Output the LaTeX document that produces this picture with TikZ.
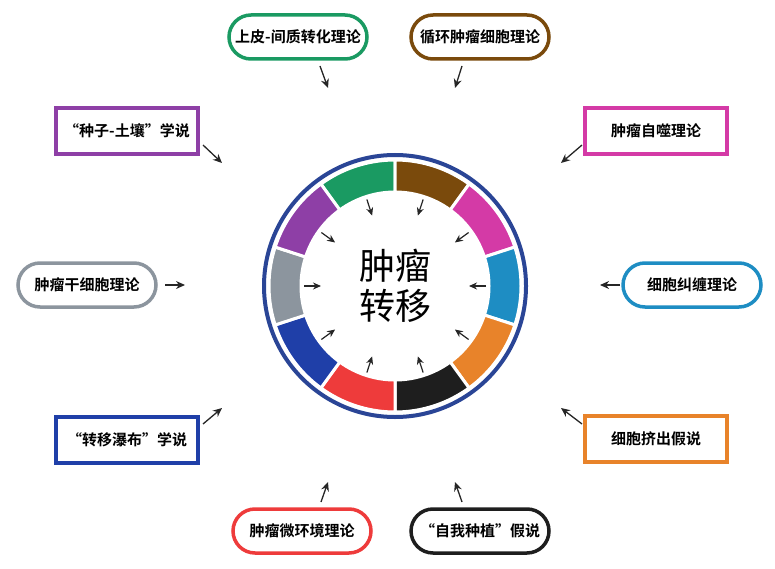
\documentclass[tikz,border=0pt]{standalone}
\usepackage{fontspec}
\setmainfont{Noto Sans CJK SC}
\newfontfamily\cjkb{Noto Sans CJK SC Bold}
\usetikzlibrary{arrows.meta,calc}
\definecolor{cgreen}{HTML}{1A9A62}
\definecolor{cbrown}{HTML}{7A4A0C}
\definecolor{cmag}{HTML}{D43AA6}
\definecolor{ccyan}{HTML}{1E8DC3}
\definecolor{corange}{HTML}{E8832A}
\definecolor{cblack}{HTML}{1E1E1E}
\definecolor{cred}{HTML}{EE3B3B}
\definecolor{cdblue}{HTML}{1F3FA8}
\definecolor{cgray}{HTML}{8C959E}
\definecolor{cpurple}{HTML}{8E3FA6}
\definecolor{cring}{HTML}{2A4596}
\tikzset{
 rbox/.style={draw=#1,line width=3.5pt,rounded corners=22pt,fill=white,minimum width=138pt,minimum height=44pt,font=\cjkb\fontsize{15}{15}\selectfont,inner sep=2pt},
 sbox/.style={draw=#1,line width=3.5pt,fill=white,minimum width=142pt,minimum height=46pt,font=\cjkb\fontsize{15}{15}\selectfont,inner sep=2pt},
 arr/.style={-{Stealth[length=9pt,width=8pt]},line width=1.3pt,black!85},
 iarr/.style={-{Stealth[length=8pt,width=7pt]},line width=1.2pt,black!85}
}
\begin{document}
\begin{tikzpicture}[x=1pt,y=-1pt]
\useasboundingbox (0,0) rectangle (775,569);
\begin{scope}[shift={(395,286)},y=1pt]
\draw[cring,line width=4pt] (0,0) circle[radius=131];
\foreach \a/\col in {108/cgreen,72/cbrown,36/cmag,0/ccyan,-36/corange,-72/cblack,-108/cred,-144/cdblue,180/cgray,144/cpurple}{
  \fill[\col,draw=white,line width=3pt] (\a-18:94) arc[start angle=\a-18,end angle=\a+18,radius=94] -- (\a+18:126) arc[start angle=\a+18,end angle=\a-18,radius=126] -- cycle;
  \coordinate (t\a) at (\a:91);
  \coordinate (h\a) at (\a:74);
  \draw[iarr] (t\a) -- (h\a);
}
\end{scope}
\node[font=\fontsize{36}{36}\selectfont,align=center] (ct) at (395,286) {肿瘤\\[4pt]转移};
\node[rbox=cgreen] (b1) at (298,37) {上皮-间质转化理论};
\node[rbox=cbrown] (b2) at (480,37) {循环肿瘤细胞理论};
\node[sbox=cmag] (b3) at (656,131) {肿瘤自噬理论};
\node[rbox=ccyan] (b4) at (692,285) {细胞纠缠理论};
\node[sbox=corange] (b5) at (656,439) {细胞挤出假说};
\node[rbox=cblack] (b6) at (480,531) {“自我种植”假说};
\node[rbox=cred] (b7) at (302,531) {肿瘤微环境理论};
\node[sbox=cdblue] (b8) at (127,440) {“转移瀑布”学说};
\node[rbox=cgray] (b9) at (87,285) {肿瘤干细胞理论};
\node[sbox=cpurple] (b10) at (127,131) {“种子-土壤”学说};
\coordinate (e1) at (328,88); \coordinate (e2) at (455,88);
\coordinate (e3) at (561,163); \coordinate (e4) at (600,285);
\coordinate (e5) at (561,408); \coordinate (e6) at (455,482);
\coordinate (e7) at (328,482); \coordinate (e8) at (222,408);
\coordinate (e9) at (185,285); \coordinate (e10) at (222,163);
\draw[arr] (320,66) -- (e1);
\draw[arr] (462,66) -- (e2);
\draw[arr] (582,145) -- (e3);
\draw[arr] (620,285) -- (e4);
\draw[arr] (582,424) -- (e5);
\draw[arr] (462,502) -- (e6);
\draw[arr] (321,502) -- (e7);
\draw[arr] (203,424) -- (e8);
\draw[arr] (165,285) -- (e9);
\draw[arr] (203,145) -- (e10);
\end{tikzpicture}
\end{document}
